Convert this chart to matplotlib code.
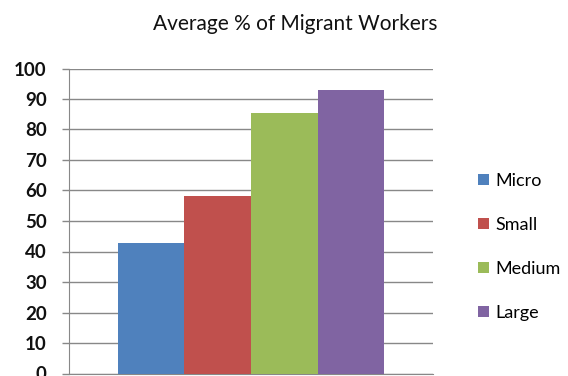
import matplotlib
matplotlib.use("Agg")
import matplotlib.pyplot as plt
import numpy as np

# === Data ===
categories = ['Micro', 'Small', 'Medium', 'Large']
values = [42.7, 58.2, 85.5, 93.0]
colors = ['#4F81BD', '#C0504D', '#9BBB59', '#8064A2']
yticks = list(range(0, 101, 10))

plt.rcParams['font.family'] = ['Lato', 'DejaVu Sans']

fig = plt.figure(figsize=(5.68, 3.76), dpi=100)
ax = fig.add_axes([69 / 568, 2.5 / 376, (433 - 69) / 568, (373.5 - 68.5) / 376])

# bars sit side by side inside one category group
width = 0.183
offsets = (np.arange(len(categories)) - 1.5) * width
for off, val, col, name in zip(offsets, values, colors, categories):
    ax.bar(off, val, width=width, color=col, label=name, zorder=3)

ax.set_xlim(-0.5, 0.5)
ax.set_ylim(0, 100)
ax.set_yticks(yticks)
ax.set_xticks([])
ax.yaxis.grid(True, color='#888888', linewidth=1.0, zorder=0)

for side in ['top', 'right']:
    ax.spines[side].set_visible(False)
for side in ['left', 'bottom']:
    ax.spines[side].set_color('#888888')
ax.tick_params(axis='y', length=5, color='#888888', width=1.0, pad=11,
               labelsize=13.5, labelcolor='#111111')
for lbl in ax.get_yticklabels():
    lbl.set_fontweight('bold')

fig.text(295 / 568, 1 - 24 / 376, 'Average % of Migrant Workers', ha='center', va='center',
         fontsize=15, color='#111111')

fig.legend(loc='center left', bbox_to_anchor=(462 / 568, 1 - 247 / 376), frameon=False,
           handlelength=0.6, handleheight=0.6, handletextpad=0.35,
           labelspacing=1.55, prop={'size': 13})

fig.savefig('out.png', dpi=100)
